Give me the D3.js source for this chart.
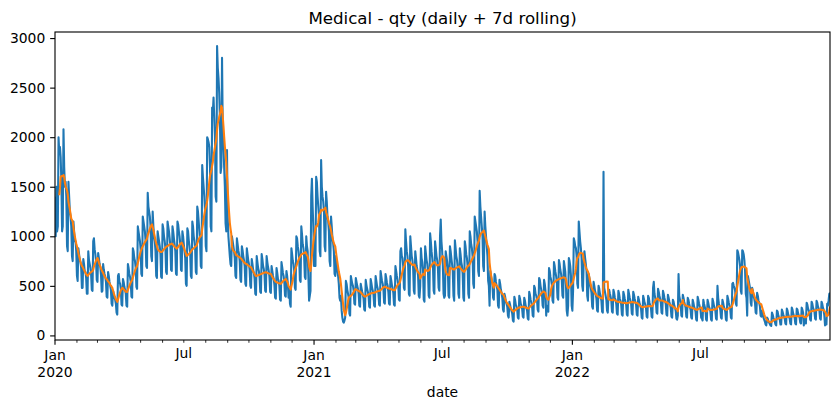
<!DOCTYPE html>
<html>
<head>
<meta charset="utf-8">
<script src="https://cdn.jsdelivr.net/npm/d3@7"></script>
<style>
  body { margin: 0; background: #fff; }
  svg { display: block; font-family: "DejaVu Sans", sans-serif; }
</style>
</head>
<body>
<svg id="chart" width="839" height="409"></svg>
<script>
// Daily qty. One row per week (Mon..Sun), first row starts Wed Jan 1.
const qty2020 = [
  1400, 1000, 1500, 1050, 1100,
  2000, 1850, 1900, 1800, 1550, 1050, 1100,
  2080, 1700, 1500, 1550, 1400, 900, 850,
  1550, 1400, 1250, 1200, 1100, 800, 750,
  1150, 1050, 950, 950, 850, 600, 550,
  880, 820, 760, 740, 680, 480, 480,
  770, 720, 650, 640, 580, 420, 420,
  850, 760, 720, 680, 620, 460, 450,
  950, 980, 870, 820, 750, 560, 540,
  830, 780, 720, 690, 610, 440, 450,
  720, 660, 620, 590, 540, 390, 380,
  640, 600, 540, 500, 460, 320, 300,
  450, 420, 380, 360, 320, 230, 210,
  600, 620, 540, 520, 470, 310, 300,
  570, 540, 490, 460, 420, 300, 290,
  720, 680, 620, 590, 540, 390, 380,
  880, 850, 780, 750, 680, 490, 470,
  1100, 1050, 1000, 950, 870, 620, 600,
  1200, 1150, 1100, 1050, 950, 700, 680,
  1440, 1300, 1250, 1200, 1100, 800, 750,
  1250, 1100, 1000, 950, 850, 600, 580,
  1050, 1000, 950, 900, 820, 590, 580,
  1120, 1080, 1000, 950, 880, 640, 620,
  1150, 1100, 1050, 980, 900, 660, 650,
  1100, 1050, 980, 920, 850, 620, 610,
  1150, 1120, 1050, 1000, 920, 660, 650,
  1050, 1000, 920, 850, 780, 520, 500,
  1080, 1050, 960, 900, 830, 600, 580,
  1150, 1100, 1000, 950, 880, 640, 620,
  1300, 1250, 1150, 1050, 950, 700, 680,
  1720, 1600, 1500, 1400, 1250, 900, 850,
  2000, 1980, 1950, 1900, 1700, 1100, 1050,
  2300, 2250, 2400, 2200, 2000, 1400, 1350,
  2920, 2700, 2600, 2450, 2200, 1640, 1700,
  2800, 2100, 1900, 1700, 1500, 1130, 1050,
  1870, 1200, 1000, 900, 800, 720, 700,
  1000, 950, 900, 850, 780, 600, 580,
  980, 920, 860, 820, 750, 560, 540,
  900, 860, 800, 760, 700, 520, 500,
  880, 820, 760, 720, 660, 500, 480,
  770, 720, 660, 630, 570, 420, 410,
  800, 740, 680, 650, 590, 440, 430,
  820, 770, 700, 670, 610, 450, 440,
  800, 740, 690, 650, 590, 440, 430,
  700, 650, 600, 570, 510, 380, 370,
  680, 630, 570, 550, 500, 360, 350,
  740, 690, 630, 600, 540, 400, 390,
  650, 600, 520, 380, 480, 320, 290,
  880, 820, 750, 720, 650, 480, 460,
  1000, 980, 900, 850, 780, 560, 540,
  1100, 1020, 920, 880, 800, 590, 570,
  1000, 900, 850, 600, 350, 400, 450,
  1400, 1580, 1300, 1100
];

// First row starts Fri Jan 1
const qty2021 = [
  700, 750, 700,
  1600, 1550, 1400, 1300, 1200, 850, 800,
  1770, 1500, 1400, 1350, 1250, 900, 850,
  1450, 1350, 1200, 1150, 1050, 750, 700,
  1200, 1100, 980, 930, 850, 620, 600,
  800, 720, 650, 600, 520, 380, 350,
  400, 250, 180, 140, 130, 150, 180,
  550, 520, 460, 420, 380, 220, 200,
  600, 560, 520, 500, 450, 320, 310,
  580, 540, 500, 470, 420, 300, 290,
  520, 480, 440, 410, 370, 260, 250,
  560, 510, 470, 440, 400, 290, 280,
  570, 530, 480, 450, 410, 300, 290,
  600, 550, 500, 470, 420, 310, 300,
  650, 600, 550, 520, 470, 330, 320,
  620, 580, 530, 500, 440, 320, 310,
  600, 560, 510, 480, 430, 310, 300,
  700, 650, 600, 560, 500, 360, 350,
  850, 880, 800, 780, 700, 480, 460,
  1070, 950, 850, 800, 700, 420, 400,
  1000, 900, 800, 760, 680, 450, 420,
  850, 780, 700, 660, 600, 400, 380,
  500, 880, 780, 740, 660, 360, 340,
  900, 830, 760, 720, 640, 400, 380,
  1030, 950, 850, 780, 700, 450, 420,
  950, 880, 800, 760, 680, 480, 450,
  1000, 1170, 950, 850, 700, 420, 380,
  400, 850, 800, 750, 680, 400, 380,
  900, 850, 780, 720, 650, 400, 350,
  960, 880, 800, 760, 680, 420, 380,
  880, 820, 740, 700, 620, 380, 350,
  950, 900, 820, 780, 700, 420, 380,
  1050, 1000, 920, 880, 800, 520, 480,
  1200, 1150, 1100, 1050, 950, 650, 600,
  1460, 1300, 1200, 1100, 1000, 700, 650,
  1250, 1100, 1000, 900, 800, 550, 500,
  300, 650, 600, 560, 520, 380, 360,
  620, 600, 540, 500, 460, 300, 280,
  560, 520, 460, 430, 380, 260, 240,
  420, 390, 340, 320, 290, 200, 180,
  340, 310, 270, 250, 220, 150, 140,
  390, 360, 310, 290, 260, 180, 170,
  400, 370, 320, 300, 270, 190, 180,
  380, 350, 300, 280, 250, 170, 160,
  440, 410, 360, 330, 300, 200, 190,
  500, 480, 420, 400, 360, 260, 240,
  580, 560, 500, 460, 420, 300, 280,
  560, 520, 450, 200, 300, 250, 240,
  680, 650, 590, 560, 510, 350, 330,
  740, 700, 640, 600, 540, 380, 360,
  760, 720, 660, 620, 560, 400, 380,
  750, 700, 640, 500, 250, 200, 300,
  780, 750, 700, 600, 300
];

// First row starts Sat Jan 1
const qty2022 = [
  250, 450,
  980, 950, 900, 880, 800, 520, 480,
  1150, 1050, 950, 880, 780, 500, 450,
  750, 850, 780, 720, 650, 400, 350,
  620, 580, 520, 480, 430, 290, 270,
  540, 500, 450, 420, 370, 250, 240,
  500, 470, 420, 390, 350, 240, 230,
  1650, 480, 440, 400, 360, 250, 230,
  400, 460, 420, 390, 350, 240, 230,
  460, 430, 380, 360, 320, 220, 210,
  450, 420, 370, 350, 310, 210, 200,
  440, 410, 370, 340, 310, 210, 200,
  460, 420, 380, 350, 320, 220, 210,
  440, 410, 370, 340, 310, 210, 200,
  390, 360, 320, 300, 270, 180, 170,
  400, 370, 330, 310, 280, 190, 180,
  400, 380, 330, 300, 280, 190, 180,
  480, 540, 420, 380, 340, 230, 220,
  470, 440, 400, 370, 330, 230, 220,
  450, 420, 380, 350, 310, 210, 200,
  410, 380, 340, 310, 280, 190, 180,
  360, 340, 300, 280, 250, 170, 160,
  200, 620, 400, 360, 320, 200, 190,
  410, 380, 340, 310, 280, 190, 180,
  380, 360, 320, 290, 260, 180, 170,
  360, 330, 290, 270, 240, 160, 150,
  390, 360, 320, 290, 260, 180, 170,
  150, 360, 320, 290, 260, 160, 150,
  360, 330, 290, 270, 240, 160, 150,
  370, 340, 300, 280, 250, 170, 160,
  500, 380, 320, 290, 260, 180, 170,
  360, 330, 290, 270, 240, 160, 150,
  400, 370, 330, 300, 270, 180, 170,
  520, 530, 500, 480, 450, 320, 300,
  860, 840, 800, 760, 700, 450, 420,
  860, 850, 820, 760, 650, 420, 380,
  200, 600, 560, 520, 480, 330, 300,
  480, 450, 400, 370, 330, 230, 220,
  430, 400, 350, 330, 290, 200, 190,
  250, 220, 180, 160, 140, 110, 100,
  180, 170, 140, 130, 115, 100, 95,
  230, 210, 180, 160, 140, 110, 100,
  250, 240, 200, 180, 160, 110, 110,
  260, 240, 210, 190, 170, 120, 110,
  270, 250, 210, 190, 170, 120, 110,
  280, 260, 220, 200, 180, 120, 110,
  270, 260, 220, 200, 180, 130, 120,
  280, 260, 230, 100, 170, 130, 120,
  330, 310, 270, 250, 230, 160, 150,
  340, 320, 280, 260, 240, 170, 160,
  350, 330, 290, 270, 250, 170, 160,
  340, 320, 280, 260, 200, 100, 110,
  110, 320, 300, 350, 420, 430
];

const yTicks = [0, 500, 1000, 1500, 2000, 2500, 3000];
const startDate = Date.UTC(2020, 0, 1);
const title = "Medical - qty (daily + 7d rolling)";

// Layout (matplotlib 10x4in @100dpi, tight crop)
const margin = { left: 55, right: 830, top: 32, bottom: 340 };
const fontSize = 13.89;
const majorLen = 4.86, minorLen = 2.78, tickPad = 4.86;

// Build series
const qty = qty2020.concat(qty2021, qty2022);
const data = qty.map((v, i) => ({ date: new Date(startDate + i * 864e5), value: v }));
const rolling = data.map((d, i) => {
    if (i < 6) return { date: d.date, value: null };
    const win = qty.slice(i - 6, i + 1);
    return { date: d.date, value: d3.mean(win) };
});

const svg = d3.select("#chart");

const x = d3.scaleUtc()
    .domain(d3.extent(data, d => d.date))
    .range([margin.left, margin.right]);

// matplotlib style 5% margins
const yMin = d3.min(qty), yMax = d3.max(qty);
const pad = (yMax - yMin) * 0.05;
const y = d3.scaleLinear()
    .domain([yMin - pad, yMax + pad])
    .range([margin.bottom, margin.top]);

svg.append("clipPath").attr("id", "clip")
    .append("rect")
    .attr("x", margin.left).attr("y", margin.top)
    .attr("width", margin.right - margin.left)
    .attr("height", margin.bottom - margin.top);

const line = d3.line()
    .defined(d => d.value !== null)
    .x(d => x(d.date))
    .y(d => y(d.value));

const plot = svg.append("g").attr("clip-path", "url(#clip)");

plot.append("path")
    .datum(data)
    .attr("fill", "none")
    .attr("stroke", "#1f77b4")
    .attr("stroke-width", 2.08)
    .attr("stroke-linejoin", "round")
    .attr("d", line);

plot.append("path")
    .datum(rolling)
    .attr("fill", "none")
    .attr("stroke", "#ff7f0e")
    .attr("stroke-width", 2.08)
    .attr("stroke-linejoin", "round")
    .attr("d", line);

// Y axis
const yAxis = d3.axisLeft(y)
    .tickValues(yTicks)
    .tickSize(majorLen)
    .tickPadding(tickPad)
    .tickFormat(d3.format("d"));

svg.append("g")
    .attr("transform", "translate(" + margin.left + ",0)")
    .call(yAxis)
    .call(g => g.select(".domain").remove())
    .call(g => g.selectAll("line").attr("stroke", "#000").attr("stroke-width", 1.11))
    .selectAll("text")
    .attr("fill", "#000")
    .style("font-size", fontSize + "px")
    .style("font-family", "DejaVu Sans");

// X axis: monthly ticks, Jan major with year, Jul labelled
const months = d3.utcMonth.range(x.domain()[0], new Date(+x.domain()[1] + 864e5));
const xg = svg.append("g");
months.forEach(m => {
    const px = x(m);
    const isMajor = m.getUTCMonth() === 0;
    const len = isMajor ? majorLen : minorLen;
    xg.append("line")
        .attr("x1", px).attr("x2", px)
        .attr("y1", margin.bottom).attr("y2", margin.bottom + len)
        .attr("stroke", "#000")
        .attr("stroke-width", isMajor ? 1.11 : 0.83);
    if (isMajor || m.getUTCMonth() === 6) {
        const t = xg.append("text")
            .attr("x", px)
            .attr("y", margin.bottom + len + tickPad + 10.6)
            .attr("text-anchor", "middle")
            .style("font-size", fontSize + "px")
            .text(d3.utcFormat("%b")(m));
        if (isMajor) {
            xg.append("text")
                .attr("x", px)
                .attr("y", margin.bottom + len + tickPad + 10.6 + 16.7)
                .attr("text-anchor", "middle")
                .style("font-size", fontSize + "px")
                .text(m.getUTCFullYear());
        }
    }
});

// Frame
svg.append("rect")
    .attr("x", margin.left).attr("y", margin.top)
    .attr("width", margin.right - margin.left)
    .attr("height", margin.bottom - margin.top)
    .attr("fill", "none")
    .attr("stroke", "#000")
    .attr("stroke-width", 1.11);

// Title and axis label
svg.append("text")
    .attr("x", (margin.left + margin.right) / 2)
    .attr("y", 23.7)
    .attr("text-anchor", "middle")
    .style("font-size", "16.67px")
    .text(title);

svg.append("text")
    .attr("x", (margin.left + margin.right) / 2)
    .attr("y", 396.5)
    .attr("text-anchor", "middle")
    .style("font-size", fontSize + "px")
    .text("date");
</script>
</body>
</html>
